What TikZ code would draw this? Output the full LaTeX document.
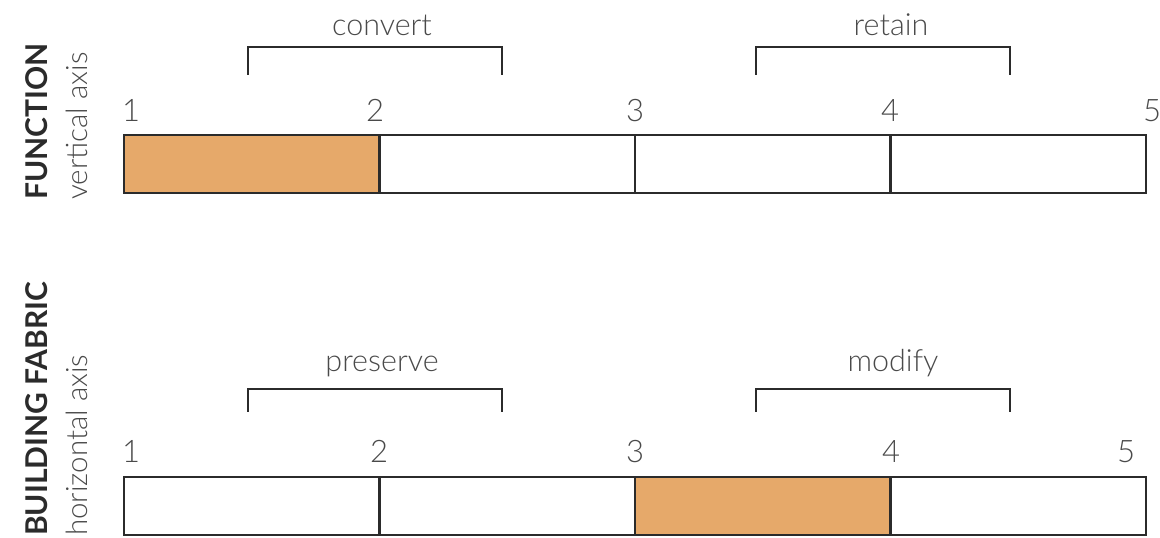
\documentclass[tikz,border=0pt]{standalone}
\usepackage{fontspec}
\setmainfont{Lato}
\newfontfamily\lightfont{Lato Light}
\definecolor{ochre}{HTML}{E6A96A}
\definecolor{ink}{HTML}{2B2B2B}
\definecolor{greytext}{HTML}{4A4A4A}

\begin{document}
\begin{tikzpicture}[x=1pt,y=1pt,
  cell/.style={draw=ink,line width=2.5pt,minimum width=255.5pt,minimum height=58pt,inner sep=0pt,outer sep=0pt},
  num/.style={font=\lightfont\fontsize{31}{31}\selectfont,text=greytext,anchor=base,inner sep=0pt},
  tag/.style={font=\lightfont\fontsize{30.5}{30.5}\selectfont,text=greytext,anchor=base,inner sep=0pt},
  bracket/.style={draw=ink,line width=2.5pt},
  axisname/.style={font=\bfseries\fontsize{30}{30}\selectfont,text=ink,rotate=90,anchor=base west,inner sep=0pt},
  axisnote/.style={font=\lightfont\fontsize{29.5}{29.5}\selectfont,text=greytext,rotate=90,anchor=base west,inner sep=0pt}]
\useasboundingbox (0,0) rectangle (1160,538);

% function scale
\foreach \i/\c in {1/ochre,2/white,3/white,4/white}
  \node[cell,fill=\c] (f\i) at (-3.75+255.5*\i,374) {};
\foreach \i/\x in {1/131,2/375,3/635,4/890,5/1152}
  \node[num] (fn\i) at (\x,416) {\i};
\draw[bracket] (248,463) |- (502,491) -- (502,463);
\draw[bracket] (756,463) |- (1010,491) -- (1010,463);
\node[tag] (convert) at (382,502) {convert};
\node[tag] (retain) at (891,502) {retain};
\node[axisname] (function) at (47,338) {FUNCTION};
\node[axisnote] (vertical) at (87,338) {vertical axis};

% building fabric scale
\foreach \i/\c in {1/white,2/white,3/ochre,4/white}
  \node[cell,fill=\c] (b\i) at (-3.75+255.5*\i,32) {};
\foreach \i/\x in {1/131,2/379,3/635,4/891,5/1126}
  \node[num] (bn\i) at (\x,75) {\i};
\draw[bracket] (248,126) |- (502,149) -- (502,126);
\draw[bracket] (756,126) |- (1010,149) -- (1010,126);
\node[tag] (preserve) at (382,166) {preserve};
\node[tag] (modify) at (893,166) {modify};
\node[axisname] (fabric) at (47,2) {BUILDING FABRIC};
\node[axisnote] (horizontal) at (87,2) {horizontal axis};
\end{tikzpicture}
\end{document}
